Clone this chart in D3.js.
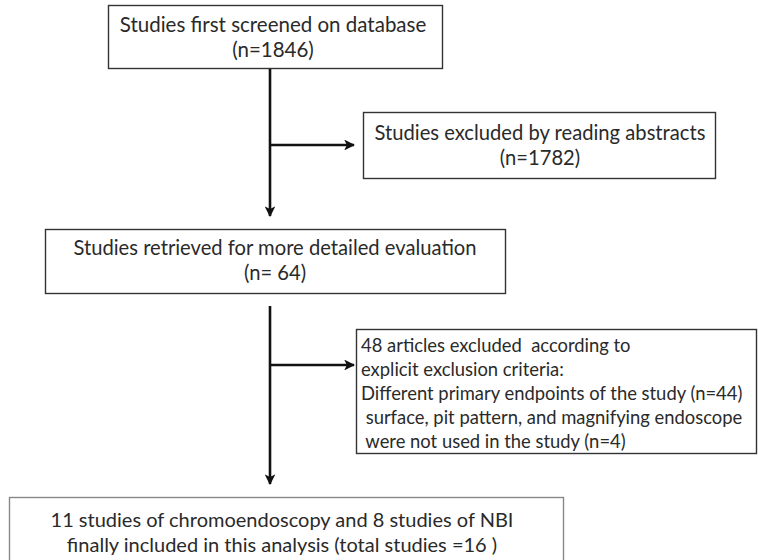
<!DOCTYPE html>
<meta charset="utf-8">
<style>
body { margin: 0; background: #fff; }
svg text { font-family: Lato, "Open Sans", sans-serif; fill: #2a2a2a; }
</style>
<svg width="758" height="560"></svg>
<script src="https://d3js.org/d3.v7.min.js"></script>
<script>
// flow content
var stepNames = ["screened", "excludedAbstracts", "retrieved", "excludedCriteria", "included"];
var stepCounts = [1846, 1782, 64, 48, 16];
var stepLines = [
  ["Studies first screened on database", "(n=1846)"],
  ["Studies excluded by reading abstracts", "(n=1782)"],
  ["Studies retrieved for more detailed evaluation", "(n= 64)"],
  ["48 articles excluded  according to", "explicit exclusion criteria:",
   "Different primary endpoints of the study (n=44)",
   " surface, pit pattern, and magnifying endoscope", " were not used in the study (n=4)"],
  ["11 studies of chromoendoscopy and 8 studies of NBI",
   "finally included in this analysis (total studies =16 )"]
];

var svg = d3.select("svg")

// layout (pixels)
var boxes = {
  screened:          {x: 108, y: 5,   w: 334, h: 63,  size: 20.5, align: "middle", tx: 273, ty: 32, lh: 25},
  excludedAbstracts: {x: 363, y: 112, w: 352, h: 66,  size: 20.2, align: "middle", tx: 540, ty: 140, lh: 25},
  retrieved:         {x: 45,  y: 229, w: 460, h: 64,  size: 20.2, align: "middle", tx: 275, ty: 255, lh: 25},
  excludedCriteria:  {x: 356, y: 329, w: 400, h: 124, size: 18.4, align: "start",  tx: 361, ty: 352, lh: 24},
  included:          {x: 9,   y: 497, w: 554, h: 80,  size: 20,   align: "middle", tx: 282, ty: 527, lh: 25}
}

svg.append("defs").append("marker")
  .attr("id", "arrow")
  .attr("viewBox", "0 0 10 10")
  .attr("refX", 9).attr("refY", 5)
  .attr("markerWidth", 4.2).attr("markerHeight", 4.2)
  .attr("markerUnits", "strokeWidth")
  .attr("orient", "auto")
  .append("path")
  .attr("d", "M0,0 L10,5 L0,10 L2.5,5 z")
  .attr("fill", "#111")

stepNames.forEach(function(name, i) {
  var b = boxes[name]
  var g = svg.append("g").attr("class", "step " + name)
  g.append("rect")
    .attr("x", b.x + 0.5).attr("y", b.y + 0.5)
    .attr("width", b.w).attr("height", b.h)
    .attr("fill", "#fff")
    .attr("stroke", name == "included" ? "#888" : "#333")
    .attr("stroke-width", 1.4)
  g.selectAll("text").data(stepLines[i])
    .enter().append("text")
    .attr("xml:space", "preserve")
    .attr("x", b.tx)
    .attr("y", function(d, j) { return b.ty + j * b.lh })
    .attr("text-anchor", b.align)
    .attr("font-size", b.size)
    .text(function(d) { return d })
})

// connectors
var trunkX = 270
var links = [
  {x1: trunkX, y1: 69,  x2: trunkX, y2: 216},
  {x1: trunkX, y1: 145, x2: 354,    y2: 145},
  {x1: trunkX, y1: 306, x2: trunkX, y2: 484},
  {x1: trunkX, y1: 365, x2: 354,    y2: 365}
]
svg.selectAll("line.link").data(links)
  .enter().append("line")
  .attr("class", "link")
  .attr("x1", function(d) { return d.x1 })
  .attr("y1", function(d) { return d.y1 })
  .attr("x2", function(d) { return d.x2 })
  .attr("y2", function(d) { return d.y2 })
  .attr("stroke", "#111")
  .attr("stroke-width", 2.6)
  .attr("marker-end", "url(#arrow)")
</script>
